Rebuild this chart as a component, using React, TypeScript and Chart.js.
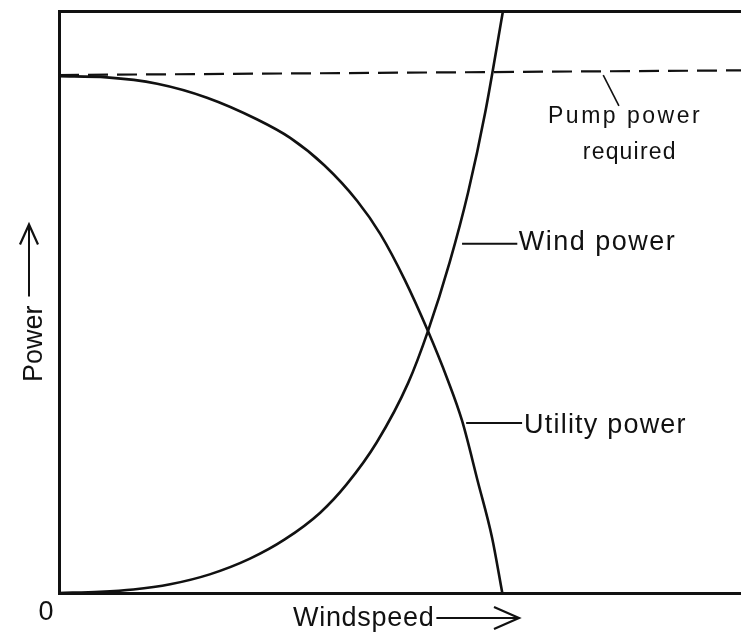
import React, { useEffect, useRef } from "react";
import { Chart, registerables } from "chart.js";

Chart.register(...registerables);

// Windspeed (arbitrary units, 0..100 across the frame) and power (0..100 up the frame)
const windSpeeds = [0, 6.0, 10.9, 16.3, 22.1, 28.0, 33.1, 38.3, 42.2, 46.6, 51.2, 54.1, 57.3, 60.0, 62.5, 65.1];
const windPower = [0, 0.2, 0.6, 1.5, 3.2, 5.9, 9.2, 13.8, 18.7, 25.9, 36.1, 45.0, 56.9, 68.9, 82.6, 100];

const utilitySpeeds = [0, 7.0, 14.4, 21.7, 29.0, 33.9, 38.9, 43.7, 47.1, 50.7, 54.1, 56.9, 59.1, 61.4, 63.5, 65.0];
const utilityPower = [88.8, 88.6, 87.5, 85.1, 81.4, 78.2, 73.5, 67.4, 61.7, 53.8, 45.0, 36.9, 29.6, 19.2, 9.5, 0];

const pumpSpeeds = [0, 100];
const pumpPower = [89.0, 89.8];

const originLabel = "0";
const xTitle = "Windspeed";
const yTitle = "Power";
const pumpLabel = ["Pump power", "required"];
const windLabel = "Wind power";
const utilityLabel = "Utility power";

const INK = "#111111";
const FONT = "'Liberation Sans', Arial, Helvetica, sans-serif";

const toPoints = (xs: number[], ys: number[]) => xs.map((x, i) => ({ x, y: ys[i] }));

const annotationPlugin = {
  id: "sketchAnnotations",
  afterDatasetsDraw(chart: any) {
    const ctx: CanvasRenderingContext2D = chart.ctx;
    const xs = chart.scales.x;
    const ys = chart.scales.y;
    const X = (v: number) => xs.getPixelForValue(v);
    const Y = (v: number) => ys.getPixelForValue(v);
    const area = chart.chartArea;

    ctx.save();
    ctx.fillStyle = INK;
    ctx.strokeStyle = INK;
    ctx.lineCap = "butt";
    ctx.textBaseline = "alphabetic";
    ctx.textAlign = "left";

    const line = (x1: number, y1: number, x2: number, y2: number, w: number) => {
      ctx.lineWidth = w;
      ctx.beginPath();
      ctx.moveTo(x1, y1);
      ctx.lineTo(x2, y2);
      ctx.stroke();
    };
    const setSpacing = (s: string) => {
      try {
        (ctx as any).letterSpacing = s;
      } catch (e) {}
    };

    // Pump power required
    line(X(79.8), Y(89.0), X(82.1), Y(83.7), 1.6);
    ctx.font = `23px ${FONT}`;
    setSpacing("2.5px");
    ctx.fillText(pumpLabel[0], X(71.7), Y(80.8));
    setSpacing("1.2px");
    ctx.fillText(pumpLabel[1], X(76.8), Y(74.6));

    // Wind power
    line(X(59.1), Y(60.0), X(67.2), Y(60.0), 2);
    ctx.font = `27px ${FONT}`;
    setSpacing("1.5px");
    ctx.fillText(windLabel, X(67.4), Y(58.9));

    // Utility power
    line(X(59.7), Y(29.2), X(67.9), Y(29.2), 2);
    setSpacing("1.2px");
    ctx.fillText(utilityLabel, X(68.2), Y(27.5));

    // Origin label
    setSpacing("0px");
    ctx.textAlign = "center";
    ctx.textBaseline = "middle";
    ctx.fillText(originLabel, area.left - 13, area.bottom + 20);

    // X axis title with arrow
    ctx.textAlign = "left";
    ctx.textBaseline = "alphabetic";
    setSpacing("0.7px");
    const tx = area.left + 234;
    const ty = area.bottom + 33;
    ctx.fillText(xTitle, tx, ty);
    const xw = ctx.measureText(xTitle).width;
    const ay = ty - 8;
    const ax0 = tx + xw + 2;
    const ax1 = area.left + 460;
    line(ax0, ay, ax1, ay, 2);
    ctx.lineWidth = 2.2;
    ctx.beginPath();
    ctx.moveTo(ax1 - 25, ay - 11);
    ctx.lineTo(ax1, ay);
    ctx.lineTo(ax1 - 25, ay + 11);
    ctx.stroke();

    // Y axis title with arrow (rotated)
    setSpacing("0px");
    ctx.save();
    const bx = area.left - 17;
    const by = area.bottom - 211;
    ctx.translate(bx, by);
    ctx.rotate(-Math.PI / 2);
    ctx.fillText(yTitle, 0, 0);
    const yw = ctx.measureText(yTitle).width;
    const ly = -13;
    const l0 = yw + 9;
    const l1 = yw + 9 + 72;
    line(l0, ly, l1, ly, 2);
    ctx.lineWidth = 2.2;
    ctx.beginPath();
    ctx.moveTo(l1 - 20, ly - 9);
    ctx.lineTo(l1, ly);
    ctx.lineTo(l1 - 20, ly + 9);
    ctx.stroke();
    ctx.restore();

    ctx.restore();
  },
};

export default function App() {
  const canvasRef = useRef<HTMLCanvasElement | null>(null);

  useEffect(() => {
    if (!canvasRef.current) return;
    const axisBase = {
      type: "linear" as const,
      min: 0,
      max: 100,
      grid: { display: false, drawTicks: false },
      ticks: { display: false },
      border: { display: true, color: INK, width: 3 },
    };
    const chart = new Chart(canvasRef.current, {
      type: "line",
      data: {
        datasets: [
          {
            label: "Wind power",
            data: toPoints(windSpeeds, windPower),
            borderColor: INK,
            borderWidth: 2.6,
            pointRadius: 0,
            fill: false,
            cubicInterpolationMode: "monotone",
          },
          {
            label: "Utility power",
            data: toPoints(utilitySpeeds, utilityPower),
            borderColor: INK,
            borderWidth: 2.6,
            pointRadius: 0,
            fill: false,
            cubicInterpolationMode: "monotone",
          },
          {
            label: "Pump power required",
            data: toPoints(pumpSpeeds, pumpPower),
            borderColor: INK,
            borderWidth: 2.2,
            borderDash: [20, 9],
            pointRadius: 0,
            fill: false,
          },
        ],
      },
      options: {
        responsive: false,
        animation: false,
        parsing: false as any,
        layout: { padding: { left: 59, top: 11, right: 0, bottom: 44 } },
        plugins: {
          legend: { display: false },
          tooltip: { enabled: false },
          title: { display: false },
        },
        scales: {
          x: { ...axisBase, position: "bottom" },
          xTop: { ...axisBase, position: "top" },
          y: { ...axisBase, position: "left" },
        } as any,
      },
      plugins: [annotationPlugin],
    });
    return () => chart.destroy();
  }, []);

  return (
    <div style={{ position: "fixed", left: 0, top: 0, width: 741, height: 637, background: "#ffffff" }}>
      <canvas ref={canvasRef} width={741} height={637} style={{ display: "block" }} />
    </div>
  );
}
